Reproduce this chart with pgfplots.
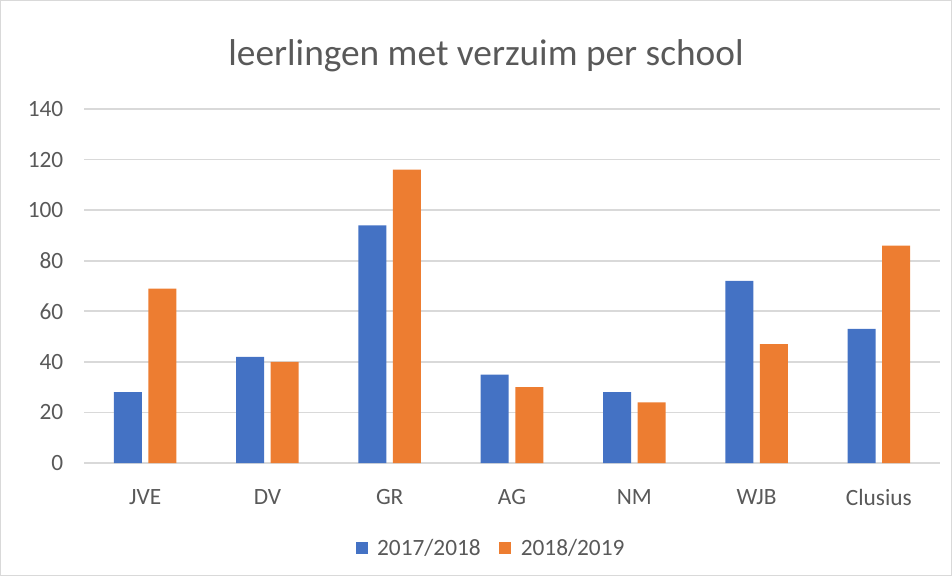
\documentclass[border=0pt]{standalone}
\usepackage{pgfplots}
\pgfplotsset{compat=1.18}
\usepackage{fontspec}
\setmainfont{Carlito}
\definecolor{cblue}{HTML}{4472C4}
\definecolor{corange}{HTML}{ED7D31}
\definecolor{ctext}{HTML}{595959}
\definecolor{cgrid}{HTML}{D9D9D9}
\begin{document}
\begin{tikzpicture}[x=0.75pt,y=0.75pt]
\path[use as bounding box] (0,0) rectangle (952,576);
\draw[cgrid, line width=0.75pt] (0.5,0.5) rectangle (951.5,575.5);
\node[text=ctext, font=\fontsize{28}{33}\selectfont] at (486,520) {leerlingen met verzuim per school};
\begin{axis}[
  at={(63pt,84.75pt)}, anchor=south west,
  scale only axis, width=642pt, height=265.5pt,
  ybar=4.9pt, bar width=21pt,
  xmin=-0.5, xmax=6.5, ymin=0, ymax=140,
  xtick=data, xticklabels={JVE,DV,GR,AG,NM,WJB,Clusius},
  ytick={0,20,...,140},
  ymajorgrids, grid style={cgrid, line width=1.2pt},
  axis line style={draw=none},
  axis x line*=bottom, axis y line*=left,
  x axis line style={cgrid, line width=1.2pt},
  tick style={draw=none},
  ticklabel style={text=ctext, font=\fontsize{17.5}{21}\selectfont},
  /pgf/number format/assume math mode=true,
  yticklabel style={xshift=-12pt},
  xticklabel style={yshift=-12pt},
  legend columns=2,
  legend style={at={(0.476,-0.24)}, anchor=center, draw=none, font=\fontsize{17.5}{21}\selectfont, text=ctext,
    /tikz/every odd column/.append style={column sep=5pt},
    /tikz/every even column/.append style={column sep=12pt}},
  legend image code/.code={\fill[#1] (0pt,-4.5pt) rectangle (9pt,4.5pt);},
]
\addplot[fill=cblue, draw=none] coordinates {(0,28) (1,42) (2,94) (3,35) (4,28) (5,72) (6,53)};
\addplot[fill=corange, draw=none] coordinates {(0,69) (1,40) (2,116) (3,30) (4,24) (5,47) (6,86)};
\legend{2017/2018, 2018/2019}
\end{axis}
\end{tikzpicture}
\end{document}
